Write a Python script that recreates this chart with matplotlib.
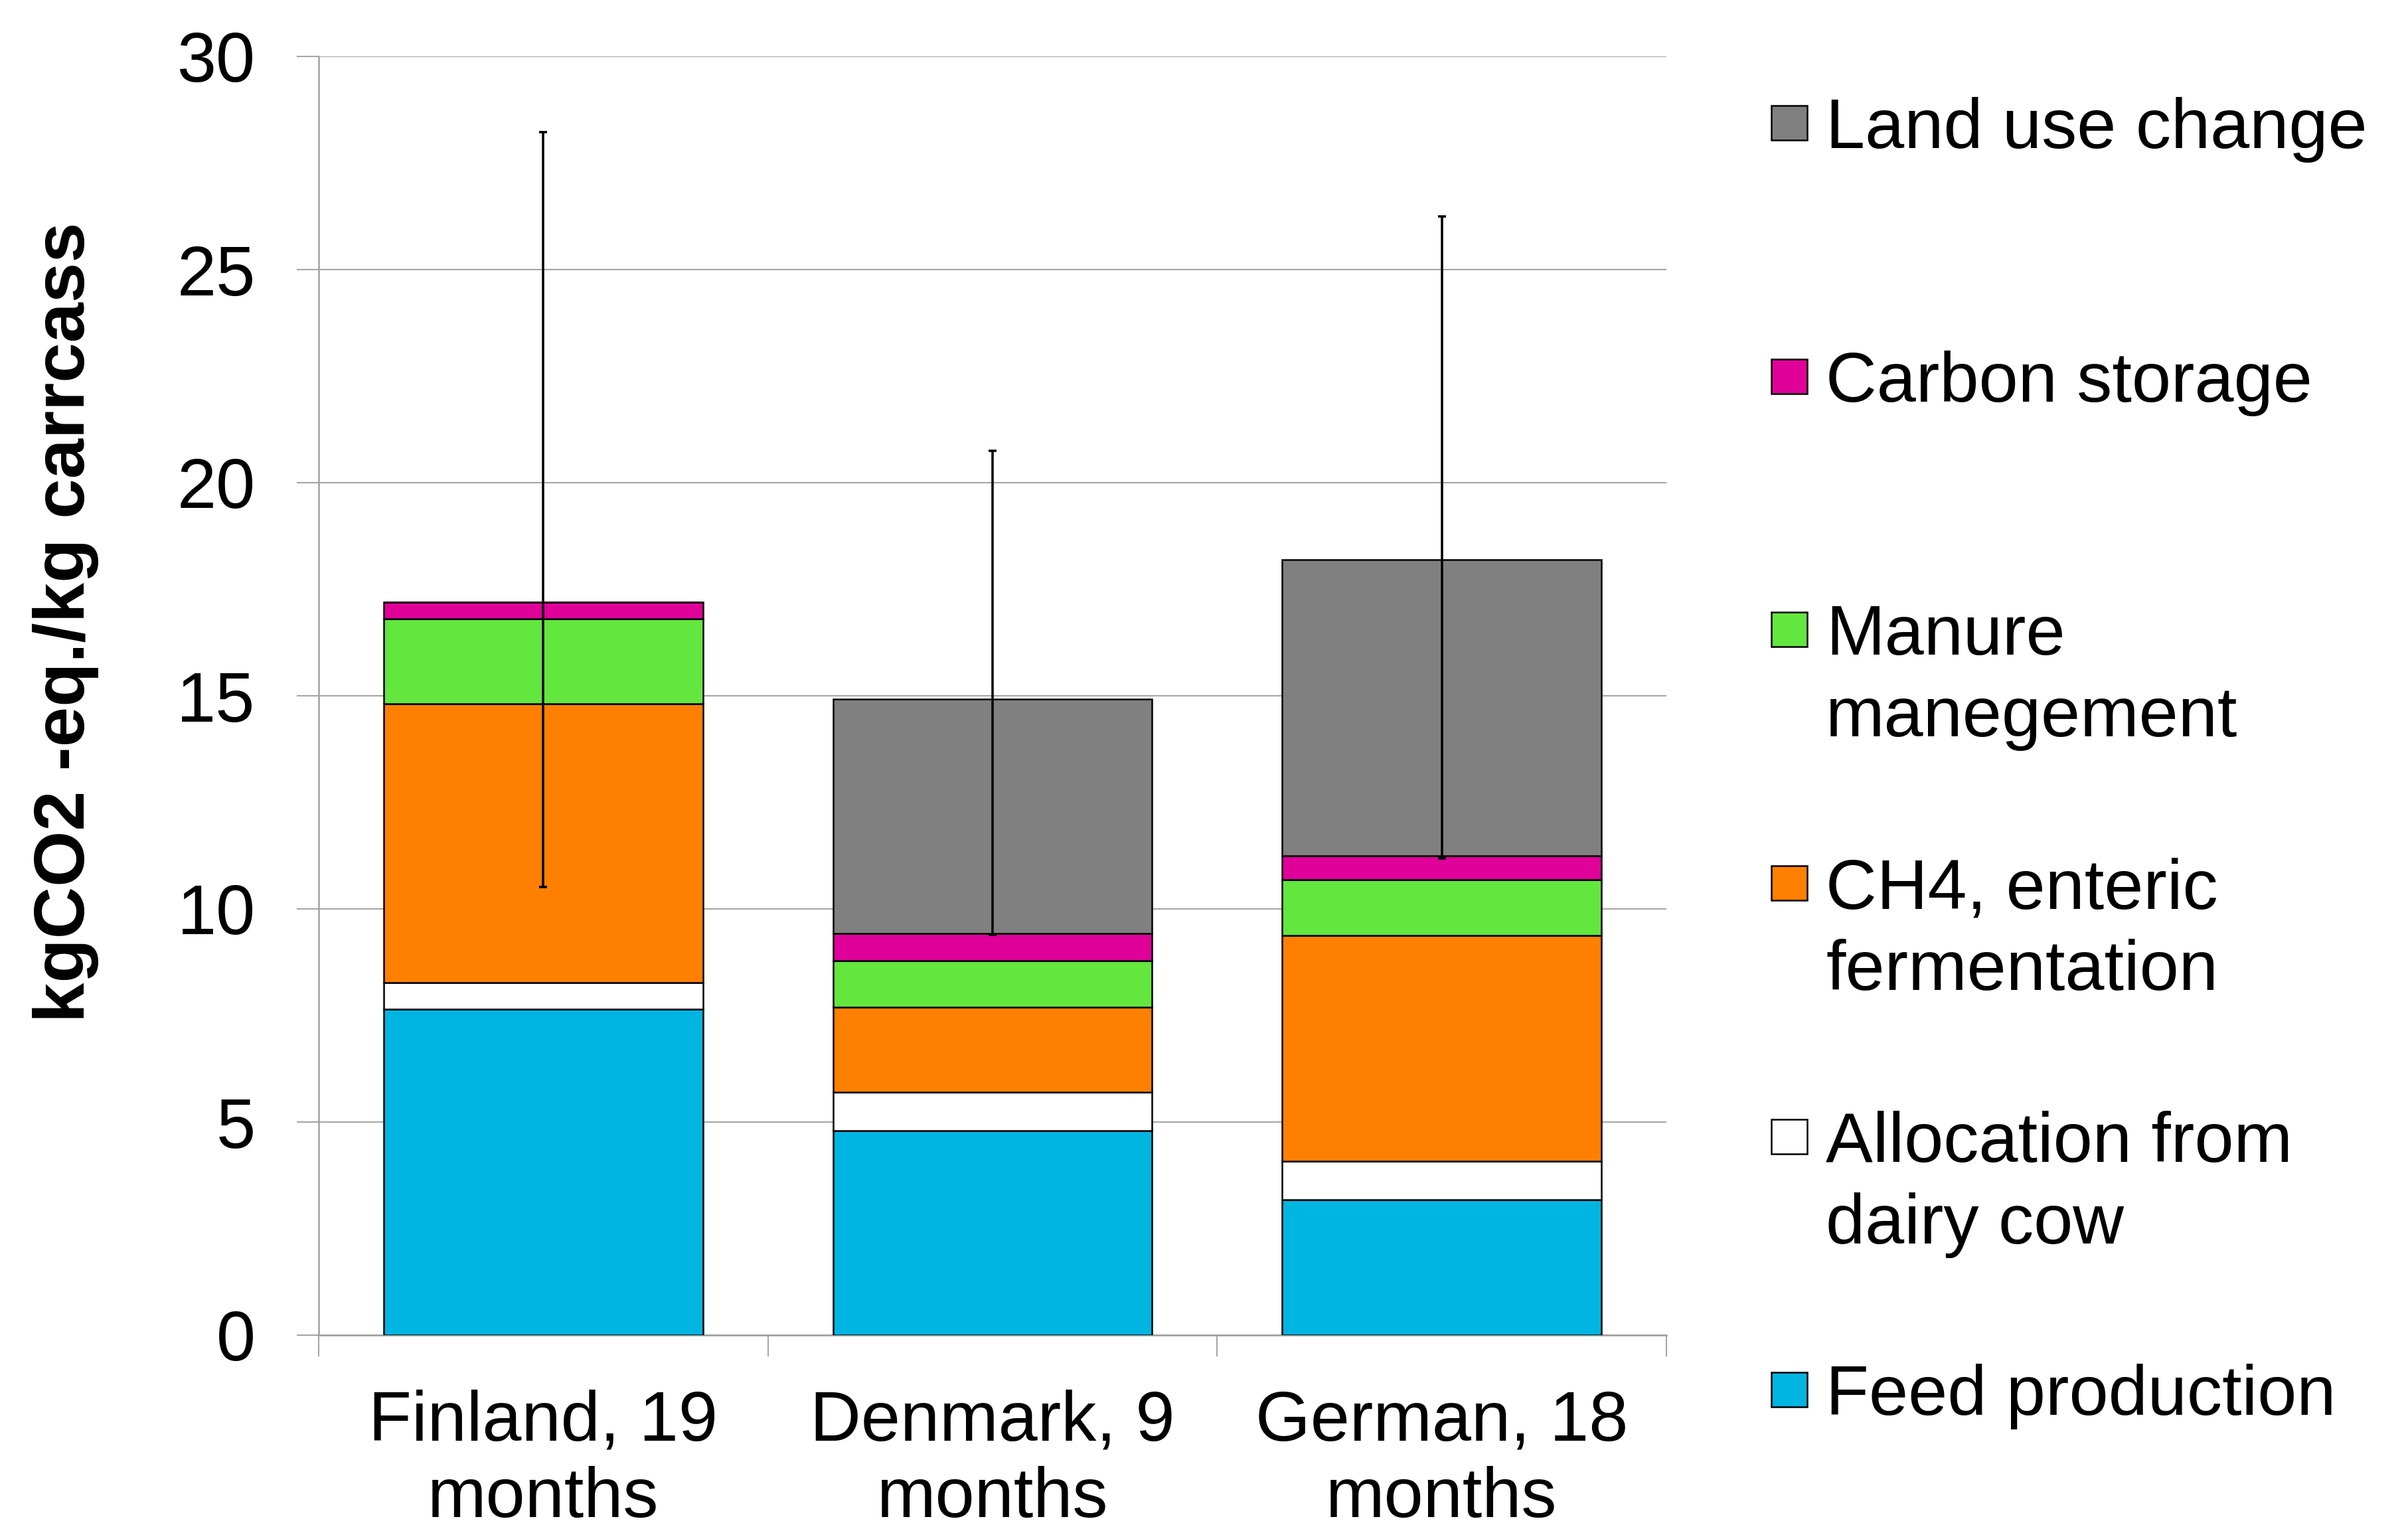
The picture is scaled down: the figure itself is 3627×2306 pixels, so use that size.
import numpy as np
import matplotlib
matplotlib.use("Agg")
import matplotlib.pyplot as plt
from matplotlib.patches import Rectangle

plt.rcParams['font.family'] = ['Liberation Sans', 'DejaVu Sans']

categories = ["Finland, 19\nmonths", "Denmark, 9\nmonths", "German, 18\nmonths"]
series_names = ["Feed production", "Allocation from\ndairy cow", "CH4, enteric\nfermentation",
                "Manure\nmanegement", "Carbon storage", "Land use change"]
feed_production = [7.65, 4.80, 3.17]
allocation_dairy = [0.62, 0.90, 0.91]
ch4_enteric = [6.54, 2.00, 5.30]
manure_management = [2.00, 1.09, 1.31]
carbon_storage = [0.39, 0.63, 0.55]
land_use_change = [0.00, 5.50, 6.96]
err_low = [10.52, 9.40, 11.18]
err_high = [28.22, 20.74, 26.25]
yticks = [0, 5, 10, 15, 20, 25, 30]

colors = ["#00B5E1", "#FFFFFF", "#FF8000", "#63E63D", "#E0009A", "#808080"]
series = [feed_production, allocation_dairy, ch4_enteric, manure_management,
          carbon_storage, land_use_change]

W, H = 3627, 2306
dpi = 300
fig = plt.figure(figsize=(W / dpi, H / dpi), dpi=dpi)
L, R, T, B = 480, 2510, 85, 2011
ax = fig.add_axes([L / W, 1 - B / H, (R - L) / W, (B - T) / H])

x = np.arange(len(categories))
bottom = np.zeros(len(categories))
for vals, col in zip(series, colors):
    vals = np.array(vals)
    ax.bar(x, vals, width=0.71, bottom=bottom, color=col, edgecolor="black",
           linewidth=0.6, zorder=3)
    bottom += vals

totals = bottom
yerr = np.array([totals - np.array(err_low), np.array(err_high) - totals])
ax.errorbar(x, totals, yerr=yerr, fmt="none", ecolor="black", elinewidth=0.85,
            capsize=1.5, capthick=0.85, zorder=4)

ax.set_xlim(-0.5, len(categories) - 0.5)
ax.set_ylim(0, 30)
ax.set_yticks(yticks)
ax.set_yticklabels([str(v) for v in yticks], fontsize=25.5)
ax.yaxis.grid(True, color="#A6A6A6", linewidth=0.5, zorder=0)
ax.set_axisbelow(True)

ax.set_xticks(x)
ax.set_xticklabels(categories, fontsize=25.5, linespacing=1.22)
ax.tick_params(axis="x", which="major", length=0, pad=19.5)
ax.set_xticks(np.arange(len(categories) + 1) - 0.5, minor=True)
ax.tick_params(axis="x", which="minor", length=7.7, width=0.5, color="#A6A6A6", direction="out")
ax.tick_params(axis="y", which="major", length=7.9, width=0.5, color="#A6A6A6",
               direction="out", pad=15)

for s in ["top", "right"]:
    ax.spines[s].set_visible(False)
ax.spines["left"].set_color("#A0A0A0")
ax.spines["left"].set_linewidth(0.6)
ax.spines["bottom"].set_color("#A0A0A0")
ax.spines["bottom"].set_linewidth(0.6)

fig.text(99 / W, 1 - 937 / H, "kgCO2 -eq./kg carrcass", rotation=90, ha="center",
         va="center", fontsize=26, fontweight="bold")

# legend (top to bottom: reversed series order)
legend_centers = [185, 567, 948, 1330, 1712, 2093]
line_step = 122.6
for i, idx in enumerate(range(len(series) - 1, -1, -1)):
    yc = legend_centers[i]
    fig.add_artist(Rectangle(((2668) / W, 1 - (yc + 26) / H), 54 / W, 52 / H,
                             transform=fig.transFigure, facecolor=colors[idx],
                             edgecolor="black", linewidth=0.6))
    for j, line in enumerate(series_names[idx].split("\n")):
        fig.text(2750 / W, 1 - (yc + 38 + j * line_step) / H, line, fontsize=25.5,
                 ha="left", va="baseline")

fig.savefig("out.png", dpi=dpi)
